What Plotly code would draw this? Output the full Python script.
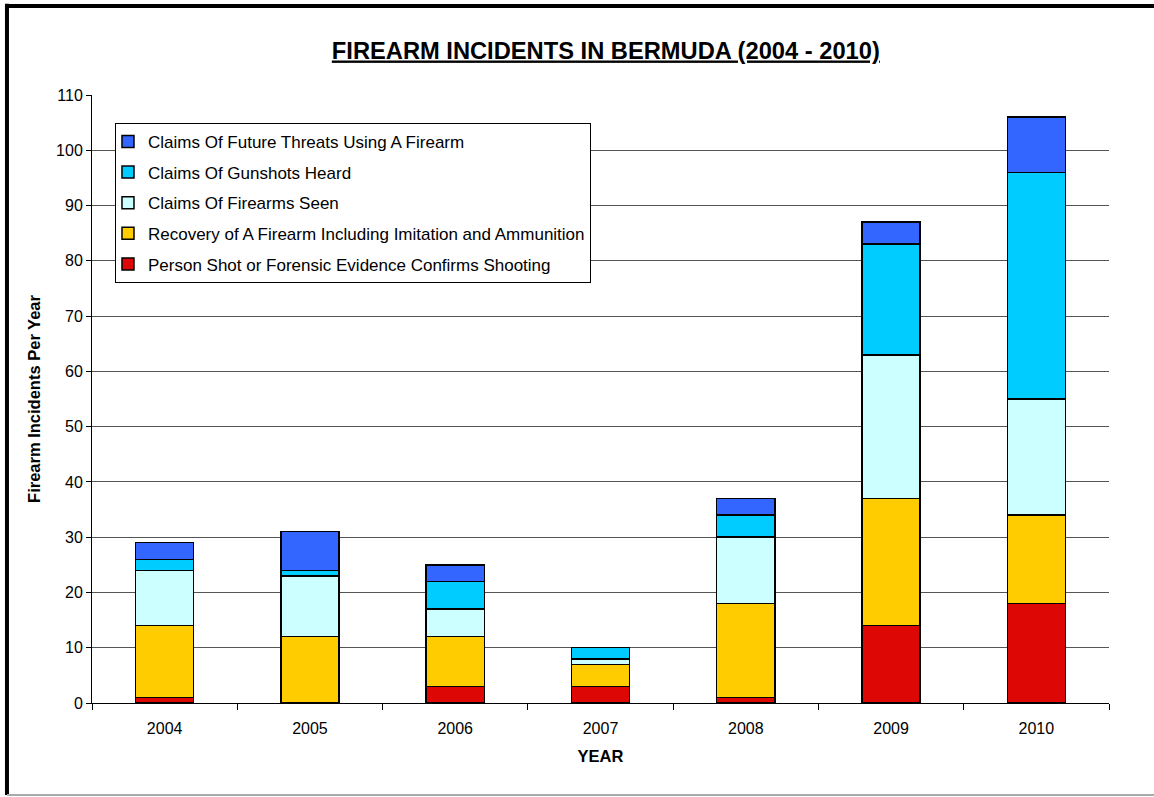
import plotly.graph_objects as go

years = ['2004', '2005', '2006', '2007', '2008', '2009', '2010']

person_shot = [1, 0, 3, 3, 1, 14, 18]
recovery = [13, 12, 9, 4, 17, 23, 16]
firearms_seen = [10, 11, 5, 1, 12, 26, 21]
gunshots_heard = [2, 1, 5, 2, 4, 20, 41]
future_threats = [3, 7, 3, 0, 3, 4, 10]

series = [
    ('Person Shot or Forensic Evidence Confirms Shooting', person_shot, '#DD0806'),
    ('Recovery of A Firearm Including Imitation and Ammunition', recovery, '#FFCC00'),
    ('Claims Of Firearms Seen', firearms_seen, '#CCFFFF'),
    ('Claims Of Gunshots Heard', gunshots_heard, '#00CCFF'),
    ('Claims Of Future Threats Using A Firearm', future_threats, '#3366FF'),
]

FONT = 'Liberation Sans, Arial, sans-serif'

fig = go.Figure()
for i, (name, vals, color) in enumerate(series):
    # top of the stack goes first in the legend
    fig.add_trace(go.Bar(
        x=years, y=vals, name=name, legendgroup=str(i),
        legendrank=len(series) - i,
        marker=dict(color=color, line=dict(color='black', width=1.5)),
    ))

# outer frame like the original chart area
frame = dict(type='line', xref='paper', yref='paper')
shapes = [
    dict(frame, x0=-0.0836, x1=1.05, y0=1.1464, y1=1.1464, line=dict(color='black', width=4)),
    dict(frame, x0=-0.0836, x1=-0.0836, y0=1.15, y1=-0.1513, line=dict(color='black', width=4)),
    dict(frame, x0=-0.0836, x1=1.05, y0=-0.1513, y1=-0.1513, line=dict(color='#AAAAAA', width=2)),
]

fig.update_layout(
    barmode='stack',
    bargap=0.6,
    width=1154, height=797,
    margin=dict(l=92, r=45, t=95, b=94),
    paper_bgcolor='white', plot_bgcolor='white',
    font=dict(family=FONT, size=16, color='black'),
    title=dict(
        text='<b><u>FIREARM INCIDENTS IN BERMUDA (2004 - 2010)</u></b>',
        x=0.525, xanchor='center', y=0.937, yanchor='middle',
        font=dict(family=FONT, size=23.7, color='black'),
    ),
    xaxis=dict(
        title=dict(text='<b>YEAR</b>', font=dict(size=16.5), standoff=14),
        showline=True, linecolor='black', linewidth=1,
        ticks='outside', tickson='boundaries', ticklen=6, tickcolor='black',
        showgrid=False, tickfont=dict(size=16), ticklabelstandoff=11,
    ),
    yaxis=dict(
        title=dict(text='<b>Firearm Incidents Per Year</b>', font=dict(size=16.5), standoff=11),
        range=[0, 110], dtick=10,
        showline=True, linecolor='black', linewidth=1,
        ticks='outside', ticklen=5, tickcolor='black',
        showgrid=True, gridcolor='#555555', gridwidth=1,
        tickfont=dict(size=16), zeroline=False,
    ),
    legend=dict(
        x=0.0226, y=0.954, xanchor='left', yanchor='top',
        traceorder='grouped', tracegroupgap=5.5,
        bordercolor='black', borderwidth=1, bgcolor='white',
        font=dict(family=FONT, size=17, color='black'),
        itemwidth=30, indentation=-8,
    ),
    shapes=shapes,
)

fig.write_html('out.html', config={'displayModeBar': False},
               post_script="document.body.style.margin='0px';")
